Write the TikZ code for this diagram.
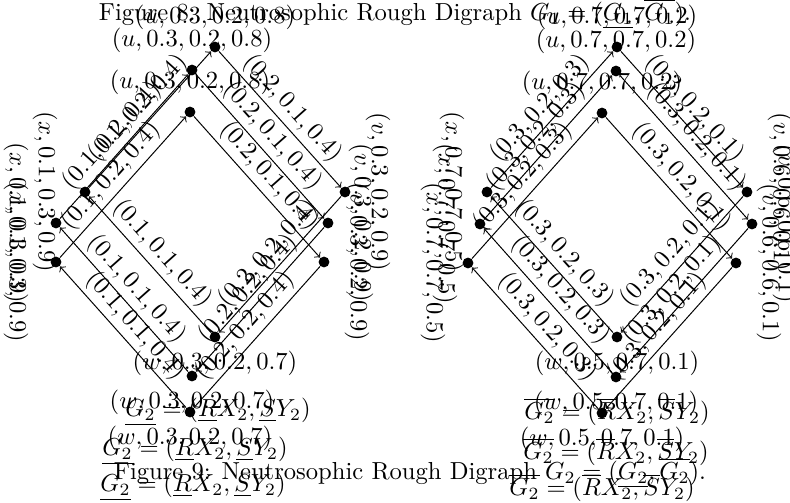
\documentclass[tikz,border=0pt]{standalone}
\usepackage{tikz}
\usetikzlibrary{positioning}

\begin{document}
\begin{tikzpicture}[
  x=0.4065pt, y=-0.4065pt,
  vtx/.style={circle, fill, inner sep=0pt, minimum size=4.4pt},
  elab/.style={midway, above, sloped, inner sep=1.5pt},
  vlab/.style={inner sep=3pt}
]
\useasboundingbox (0,0) rectangle (790,502);

\node (title) at (395,14) {Figure 8: Neutrosophic Rough Digraph $G_1 = (\underline{G_1}, \overline{G_1})$.};
\node (caption) at (410,473) {Figure 9: Neutrosophic Rough Digraph $G_2 = (\underline{G_2}, \overline{G_2})$.};

% left digraph, three copies
\foreach \i/\cx/\cy/\hw/\hh in {1/215/192/130/145, 2/192/223/136/153, 3/190/262/134/150} {
  \node[vtx] (lu\i) at (\cx,\cy-\hh) {};
  \node[vtx] (lv\i) at (\cx+\hw,\cy) {};
  \node[vtx] (lw\i) at (\cx,\cy+\hh) {};
  \node[vtx] (lx\i) at (\cx-\hw,\cy) {};
  \node[vlab] (lut\i) [above=1.5pt of lu\i] {$(u, 0.3, 0.2, 0.8)$};
  \node[vlab] (lwt\i) [below=0pt of lw\i] {$(w, 0.3, 0.2, 0.7)$};
  \node[vlab, rotate=-90] (lxt\i) at (\cx-\hw-40,\cy) {$(x, 0.1, 0.3, 0.9)$};
  \node[vlab, rotate=-90] (lvt\i) at (\cx+\hw+33,\cy) {$(v, 0.3, 0.2, 0.9)$};
  \node (lcap\i) at (\cx+3,\cy+\hh+75) {$\underline{G_2} = (\underline{R}X_2, \underline{S}Y_2)$};
  \draw[->] (lx\i) -- node[elab] {$(0.1, 0.2, 0.4)$} (lu\i);
  \draw[->] (lu\i) -- node[elab] {$(0.2, 0.1, 0.4)$} (lv\i);
  \draw[->] (lv\i) -- node[elab] {$(0.2, 0.2, 0.4)$} (lw\i);
  \draw[->] (lw\i) -- node[elab] {$(0.1, 0.1, 0.4)$} (lx\i);
}

% right digraph, three copies
\foreach \i/\cx/\cy/\hw/\hh in {1/617/192/130/145, 2/616/224/136/153, 3/602/263/134/150} {
  \node[vtx] (ru\i) at (\cx,\cy-\hh) {};
  \node[vtx] (rv\i) at (\cx+\hw,\cy) {};
  \node[vtx] (rw\i) at (\cx,\cy+\hh) {};
  \node[vtx] (rx\i) at (\cx-\hw,\cy) {};
  \node[vlab] (rut\i) [above=1.5pt of ru\i] {$(u, 0.7, 0.7, 0.2)$};
  \node[vlab] (rwt\i) [below=0pt of rw\i] {$(w, 0.5, 0.7, 0.1)$};
  \node[vlab, rotate=-90] (rxt\i) at (\cx-\hw-35,\cy) {$(x, 0.7, 0.7, 0.5)$};
  \node[vlab, rotate=-90] (rvt\i) at (\cx+\hw+33,\cy) {$(v, 0.6, 0.6, 0.1)$};
  \node (rcap\i) at (\cx,\cy+\hh+75) {$\overline{G_2} = (\overline{R}X_2, \overline{S}Y_2)$};
  \draw[->] (rx\i) -- node[elab] {$(0.3, 0.2, 0.3)$} (ru\i);
  \draw[->] (ru\i) -- node[elab] {$(0.3, 0.2, 0.1)$} (rv\i);
  \draw[->] (rv\i) -- node[elab] {$(0.3, 0.2, 0.1)$} (rw\i);
  \draw[->] (rw\i) -- node[elab] {$(0.3, 0.2, 0.3)$} (rx\i);
}
\end{tikzpicture}
\end{document}
